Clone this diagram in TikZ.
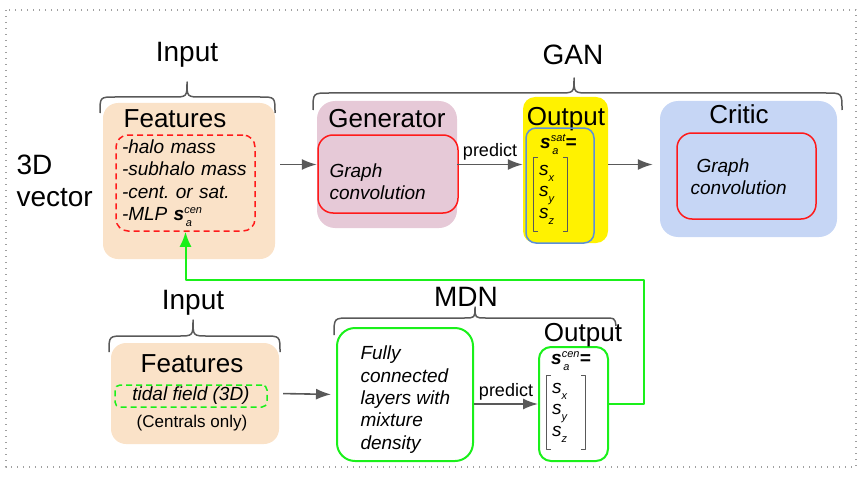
\documentclass[tikz,border=0pt]{standalone}
\usepackage{fontspec}
\setmainfont{Liberation Sans}
\usetikzlibrary{arrows.meta,calc}
\frenchspacing
\definecolor{featfill}{HTML}{FAE2C8}
\definecolor{genfill}{HTML}{E6C9D7}
\definecolor{critfill}{HTML}{C6D6F5}
\definecolor{convred}{HTML}{FF1A1A}
\definecolor{mdngreen}{HTML}{1AF01A}
\definecolor{outblue}{HTML}{5B8FDB}
\definecolor{linegray}{HTML}{595959}
\definecolor{framegray}{HTML}{A0A0A0}
\newcommand{\svec}[1]{\textbf{\textit{s}}\rlap{\raisebox{-6pt}{\fontsize{11}{11}\selectfont\hspace{1.5pt}\textit{a}}}\raisebox{7pt}{\fontsize{11}{11}\selectfont\textit{#1}}}
\newcommand{\scomp}[1]{\textit{s}\raisebox{-6pt}{\fontsize{11}{11}\selectfont\textit{#1}}}
\tikzset{box/.style={
            rounded corners=15pt,
            inner sep=0pt
        },
        featbox/.style={
            box,
            fill=featfill
        },
        genbox/.style={
            box,
            fill=genfill,
            rounded corners=18pt
        },
        critbox/.style={
            box,
            fill=critfill,
            rounded corners=18pt
        },
        outbox/.style={
            box,
            fill=yellow,
            rounded corners=12pt
        },
        convbox/.style={
            box,
            draw=convred,
            line width=1.5pt
        },
        dashbox/.style={
            box,
            draw=convred,
            line width=1.5pt,
            rounded corners=12pt,
            dash pattern=on 6pt off 4pt
        },
        greenbox/.style={
            box,
            draw=mdngreen,
            line width=2pt
        },
        vecbody/.style={
            inner sep=0pt,
            inner xsep=5pt,
            align=left,
            font=\fontsize{19}{21.5}\selectfont
        },
        bracket/.style={
            draw=linegray,
            line width=1.2pt
        },
        heading/.style={
            font=\fontsize{28}{32}\selectfont
        },
        boxtitle/.style={
            anchor=base,
            font=\fontsize{26}{30}\selectfont
        },
        item/.style={
            align=left,
            font=\fontsize{19}{22.4}\selectfont\itshape
        },
        flow/.style={
            draw=linegray,
            line width=1.6pt,
            -{Latex[length=15pt,width=11pt]}
        },
        feedback/.style={
            draw=mdngreen,
            line width=2pt,
            -{Latex[length=15pt,width=12pt]}
        },
        curly/.style={
            draw=linegray,
            line width=1.5pt
        }
    }
\begin{document}
\begin{tikzpicture}[x=1pt,y=-1pt,line join=round]
\useasboundingbox (0,0) rectangle (866,476);
\draw[framegray, line width=1.3pt, dash pattern=on 1.2pt off 4.8pt] (6,10) rectangle (856,467);
% GAN row
\node[featbox, minimum width=172pt, minimum height=156pt] (feat) at (189,181) {};
\node[boxtitle] (feattitle) at (175,128) {Features};
\node[dashbox, item, minimum height=96pt, text width=127pt, inner xsep=6pt] (featlist) at (185.5,183)
    {-halo mass\\-subhalo mass\\-cent. or sat.\\-MLP \svec{cen}};
\node[genbox, minimum width=140pt, minimum height=127pt] (gen) at (387,164.5) {};
\node[boxtitle] (gentitle) at (387,128) {Generator};
\node[convbox, minimum width=140pt, minimum height=78pt] (genconv) at (388,174) {};
\node[item, anchor=west] (gentext) at (326,181.5) {Graph\\convolution};
\node[outbox, minimum width=85pt, minimum height=146pt] (satout) at (565.5,170) {};
\node[boxtitle] (satouttitle) at (566,125) {Output};
\node[box, draw=outblue, line width=1.5pt, rounded corners=10pt, minimum width=68pt, minimum height=115pt] (satbox) at (560,185.5) {};
\node[item, anchor=base west, inner sep=0pt] (satlbl) at (540,148) {\svec{sat}\textbf{=}};
\node[vecbody, text width=23pt, minimum height=73pt] (satvec) at (550.5,194.5) {\scomp{x}\\\scomp{y}\\\scomp{z}};
\draw[bracket] ([xshift=4pt]satvec.north west) -- (satvec.north west) -- (satvec.south west) -- ([xshift=4pt]satvec.south west);
\draw[bracket] ([xshift=-4pt]satvec.north east) -- (satvec.north east) -- (satvec.south east) -- ([xshift=-4pt]satvec.south east);
\node[critbox, minimum width=177pt, minimum height=136pt] (critic) at (748.5,169) {};
\node[boxtitle] (critictitle) at (739,124) {Critic};
\node[convbox, minimum width=139pt, minimum height=86pt] (critconv) at (746.5,176) {};
\node[item, anchor=west] (crittext) at (687,177) {\hspace*{6pt}Graph\\convolution};
% MDN row
\node[featbox, minimum width=168pt, minimum height=101pt] (featb) at (195,393.5) {};
\node[boxtitle] (featbtitle) at (192,372) {Features};
\node[box, draw=mdngreen, line width=1.5pt, rounded corners=5pt, dash pattern=on 6pt off 4pt, minimum width=152pt, minimum height=22pt, item] (tidal) at (191,396) {tidal field (3D)};
\node[font=\fontsize{17}{20}\selectfont] (central) at (192,423) {(Centrals only)};
\node[greenbox, minimum width=136pt, minimum height=133pt, rounded corners=18pt] (mdn) at (405,394.5) {};
\node[item, anchor=west] (mdntext) at (357,399.5) {Fully\\connected\\layers with\\mixture\\density};
\node[greenbox, minimum width=69pt, minimum height=114pt, rounded corners=12pt] (cenout) at (573.5,404) {};
\node[item, anchor=base west, inner sep=0pt] (cenlbl) at (551,364) {\svec{cen}\textbf{=}};
\node[vecbody, text width=28pt, minimum height=73pt] (cenvec) at (566,412.5) {\scomp{x}\\\scomp{y}\\\scomp{z}};
\draw[bracket] ([xshift=4pt]cenvec.north west) -- (cenvec.north west) -- (cenvec.south west) -- ([xshift=4pt]cenvec.south west);
\draw[bracket] ([xshift=-4pt]cenvec.north east) -- (cenvec.north east) -- (cenvec.south east) -- ([xshift=-4pt]cenvec.south east);
% braces and headings
\draw[curly] (100,113) .. controls (100,97) .. (115,97) -- (172,97) .. controls (187,97) .. (187,82) .. controls (187,97) .. (202,97) -- (260,97) .. controls (275,97) .. (275,113);
\draw[curly] (313,110) .. controls (313,93) .. (329,93) -- (558,93) .. controls (574,93) .. (574,78) .. controls (574,93) .. (590,93) -- (826,93) .. controls (842,93) .. (842,110);
\draw[curly] (109,352) .. controls (109,336) .. (125,336) -- (178,336) .. controls (193,336) .. (193,320) .. controls (193,336) .. (208,336) -- (264,336) .. controls (280,336) .. (280,352);
\draw[curly] (334,335) .. controls (334,318) .. (350,318) -- (464,318) .. controls (475,318) .. (475,307) .. controls (475,318) .. (486,318) -- (603,318) .. controls (615,318) .. (616,326);
\node[heading] (inputtop) at (187,55) {Input};
\node[heading] (gan) at (573,55) {GAN};
\node[heading] (inputbot) at (193,303) {Input};
\node[heading] (mdnlbl) at (466,297) {MDN};
\node[heading, anchor=west, align=left] (vector) at (13,181) {3D\\vector};
\node[boxtitle] (cenouttitle) at (583,341) {Output};
% connectors
\draw[flow, shorten <=5pt] (feat.east |- gen.west) -- (gen.west);
\draw[flow] (gen.east) -- node[above, inner sep=3pt, font=\fontsize{18}{20}\selectfont] {predict} (gen.east -| satout.west);
\draw[flow, shorten >=7pt] (satout.east |- gen.east) -- (critic.west |- gen.east);
\draw[flow, shorten <=4pt, shorten >=5pt] (featb.east) -- (mdn.west);
\draw[flow] (mdn.east |- cenout.west) -- node[above, inner sep=3pt, font=\fontsize{18}{20}\selectfont] {predict} (cenout.west);
\coordinate (loop) at (644,280);
\draw[feedback] (cenout.east) -| (loop) -| (featlist.south);
\end{tikzpicture}
\end{document}
